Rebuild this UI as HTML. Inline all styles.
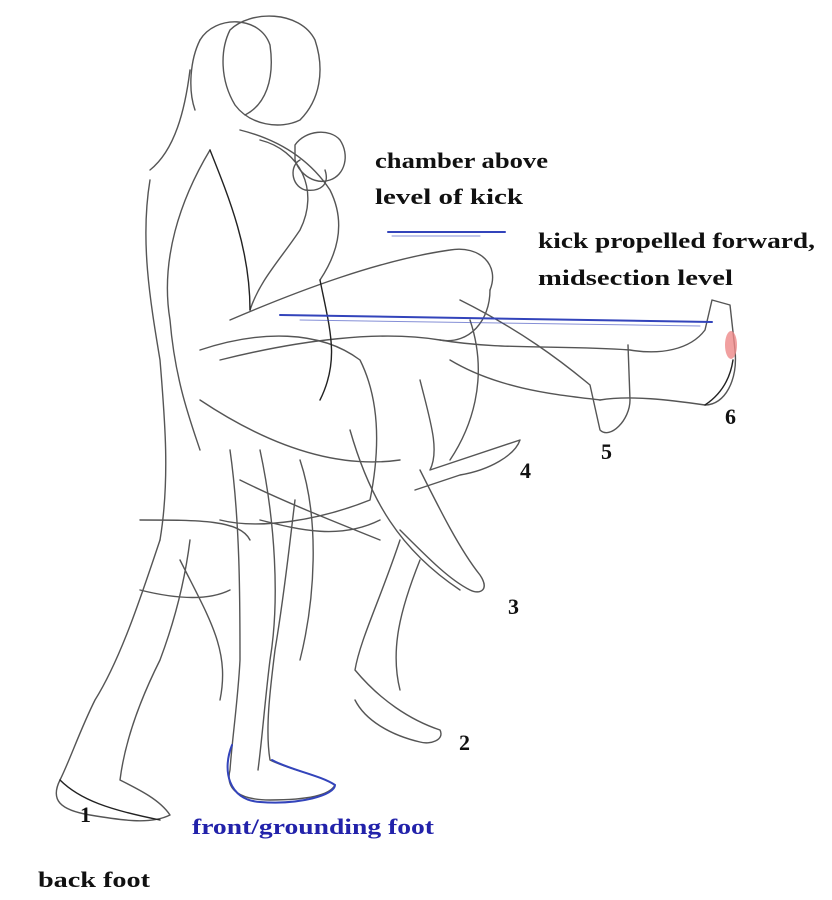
<!DOCTYPE html>
<html><head><meta charset="utf-8"><style>
html,body{margin:0;padding:0;background:#fff;}
svg{display:block}
text{font-family:"Liberation Serif",serif;font-weight:bold;font-size:22px;fill:#111;}
</style></head><body>
<svg width="832" height="900" viewBox="0 0 832 900" xmlns="http://www.w3.org/2000/svg">
<rect width="832" height="900" fill="#fff"/>
<g fill="none" stroke="#555" stroke-width="1.4" stroke-linecap="round" stroke-linejoin="round">
<path d="M230 30 C250 10 300 10 315 40 C325 70 320 100 300 120 C280 130 250 125 235 105 C220 80 220 50 230 30"/>
<path d="M200 40 C215 15 260 15 270 45 C275 80 265 105 245 115"/>
<path d="M190 70 C185 110 175 150 150 170 M200 40 C190 60 188 90 195 110"/>
<path d="M210 150 C180 200 160 260 170 320 C175 380 190 420 200 450"/>
<path d="M240 130 C280 140 310 160 330 190 C345 220 340 250 320 280"/>
<path d="M150 180 C140 240 150 300 160 360 C165 420 170 480 160 540"/>
<path d="M260 140 C300 150 320 190 300 230 C280 260 260 280 250 310"/>
<path d="M295 145 C305 130 330 128 340 140 C350 155 345 175 330 180 C315 185 300 175 295 160 Z"/>
<path d="M300 160 C290 165 290 185 305 190 C320 192 330 185 325 170"/>
<path d="M230 320 C300 290 380 260 450 250 C480 245 500 265 490 290"/>
<path d="M220 360 C300 340 380 330 440 340 C470 345 490 320 490 290"/>
<path d="M200 400 C260 440 330 470 400 460"/>
<path d="M440 340 C500 350 560 345 630 350 C660 355 690 350 705 330 L712 300 L730 305 L735 350 C738 380 725 405 705 405 C670 400 630 395 600 400"/>
<path d="M450 360 C500 390 560 395 600 400"/>
<path d="M460 300 C520 330 560 360 590 385 L600 430 C610 440 630 420 630 400 L628 345"/>
<path d="M420 380 C430 420 440 450 430 470 C460 460 490 450 520 440 C515 455 490 470 460 475 L415 490"/>
<path d="M470 320 C490 380 470 430 450 460"/>
<path d="M420 470 C440 510 460 550 480 575 C490 590 480 595 470 590 C450 580 430 560 400 530"/>
<path d="M350 430 C370 500 400 550 460 590"/>
<path d="M400 540 C380 600 360 640 355 670 C380 700 410 720 440 730 C445 740 430 745 420 742 C390 735 365 720 355 700"/>
<path d="M420 560 C400 610 390 650 400 690"/>
<path d="M230 450 C240 520 240 600 240 660 C238 700 232 740 230 770 C225 790 240 800 270 800 C310 800 330 795 335 785 C320 775 290 770 270 760 C265 730 270 690 275 650 C285 590 290 540 295 500"/>
<path d="M260 450 C275 520 280 600 270 660 C265 700 262 740 258 770"/>
<path d="M300 460 C320 520 315 600 300 660"/>
<path d="M160 540 C140 600 120 660 95 700 C80 730 70 760 60 780 C50 800 60 810 90 815 C120 820 150 825 170 815 C160 800 140 790 120 780 C125 740 140 700 160 660 C175 620 185 580 190 540"/>
<path d="M140 520 C200 520 240 520 250 540 M140 590 C180 600 210 600 230 590"/>
<path d="M180 560 C210 620 230 650 220 700"/>
<path d="M200 350 C260 330 320 330 360 360 C380 400 380 450 370 500 C320 520 260 530 220 520"/>
<path d="M240 480 C280 500 330 520 380 540 M260 520 C300 530 340 540 380 520"/>
</g>
<g fill="none" stroke="#222" stroke-width="1.4" stroke-linecap="round">
<path d="M210 150 C230 200 250 250 250 310 M320 280 C330 330 340 360 320 400"/>
<path d="M705 405 C720 395 730 380 733 360"/>
<path d="M60 780 C80 800 110 810 160 820"/>
</g>
<g stroke="#3344bb" fill="none" stroke-linecap="round">
<line x1="388" y1="232" x2="505" y2="232" stroke-width="2"/>
<line x1="392" y1="236" x2="480" y2="236" stroke-width="1" opacity="0.6"/>
<line x1="280" y1="315" x2="712" y2="322" stroke-width="2"/>
<line x1="300" y1="320" x2="700" y2="326" stroke-width="1" opacity="0.6"/>
<path d="M232 745 C222 770 228 800 260 802 C300 805 335 795 335 785 C320 775 290 770 272 760" stroke-width="2"/>
</g>
<ellipse cx="731" cy="345" rx="6" ry="14" fill="#e88" opacity="0.8"/>
<text x="375" y="168" textLength="173" lengthAdjust="spacingAndGlyphs">chamber above</text>
<text x="375" y="204" textLength="148" lengthAdjust="spacingAndGlyphs">level of kick</text>
<text x="538" y="248" textLength="277" lengthAdjust="spacingAndGlyphs">kick propelled forward,</text>
<text x="538" y="285" textLength="195" lengthAdjust="spacingAndGlyphs">midsection level</text>
<text x="725" y="424">6</text>
<text x="601" y="459">5</text>
<text x="520" y="478">4</text>
<text x="508" y="614">3</text>
<text x="459" y="750">2</text>
<text x="80" y="822">1</text>
<text x="192" y="834" style="fill:#2222aa" textLength="242" lengthAdjust="spacingAndGlyphs">front/grounding foot</text>
<text x="38" y="887" textLength="112" lengthAdjust="spacingAndGlyphs">back foot</text>
</svg>
</body></html>
